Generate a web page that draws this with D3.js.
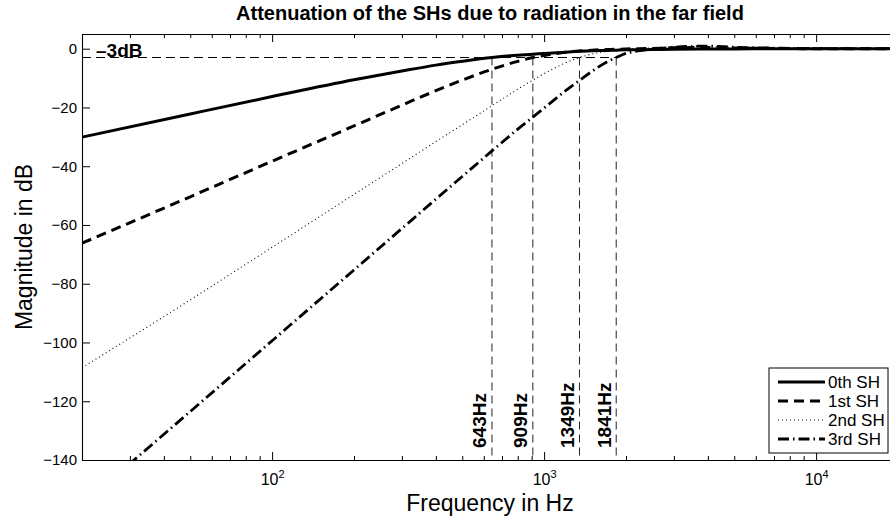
<!DOCTYPE html>
<html>
<head>
<meta charset="utf-8">
<script src="https://cdn.jsdelivr.net/npm/d3@7"></script>
<style>
  html, body { margin: 0; padding: 0; background: #fff; }
  svg { display: block; font-family: "Liberation Sans", Arial, Helvetica, sans-serif; }
</style>
</head>
<body>
<svg id="chart" width="890" height="517"></svg>
<script>
// ---- data ----
const freqs = [20, 50, 100, 200, 300, 400, 500, 643, 800, 909, 1000, 1200, 1349, 1500, 1700, 1841, 2000, 2500, 3000, 4000, 5000, 7000, 10000, 20000];
const sh0 = [-30.1, -22.2, -16.3, -10.6, -7.6, -5.6, -4.3, -3.0, -2.2, -1.9, -1.6, -1.2, -0.9, -0.7, -0.6, -0.5, -0.4, -0.3, -0.2, -0.1, -0.1, 0, 0, 0];
const sh1 = [-66.2, -50.4, -38.3, -26.3, -19.2, -14.3, -10.7, -7.0, -4.3, -3.0, -2.3, -1.2, -0.8, -0.5, -0.3, -0.2, -0.1, 0.1, 0.3, 0.4, 0.2, 0.1, 0, 0];
const sh2 = [-108.6, -85.5, -67.6, -49.6, -39.1, -31.6, -25.9, -19.4, -13.8, -10.7, -8.5, -4.8, -3.0, -1.8, -0.9, -0.5, -0.2, 0.3, 0.6, 0.7, 0.4, 0.1, 0, 0];
const sh3 = [-155.3, -123.5, -99.4, -75.3, -61.2, -51.2, -43.5, -34.8, -27.4, -23.3, -20.2, -14.3, -10.8, -7.7, -4.5, -3.0, -1.6, -0.2, 0.5, 0.9, 0.5, 0.2, 0, 0];
const seriesNames = ["0th SH", "1st SH", "2nd SH", "3rd SH"];
const cutoffs = [643, 909, 1349, 1841];
const cutoffLabels = ["643Hz", "909Hz", "1349Hz", "1841Hz"];
const refLevel = -3;
const refLabel = "\u20133dB";
const yTicks = [-140, -120, -100, -80, -60, -40, -20, 0];
const xMajorTicks = [100, 1000, 10000];
const xMinorTicks = [20, 30, 40, 50, 60, 70, 80, 90, 200, 300, 400, 500, 600, 700, 800, 900, 2000, 3000, 4000, 5000, 6000, 7000, 8000, 9000, 20000];
const titleText = "Attenuation of the SHs due to radiation in the far field";
const xLabel = "Frequency in Hz";
const yLabel = "Magnitude in dB";

// ---- layout ----
const svg = d3.select("#chart");
const L = 82, R = 898, T = 34, B = 460;
const x = d3.scaleLog().domain([20, 20000]).range([L, R]);
const y = d3.scaleLinear().domain([-140, 5]).range([B, T]);

const styles = [
  { w: 3, dash: null },
  { w: 3, dash: "10,6" },
  { w: 1.1, dash: "1,3" },
  { w: 2.8, dash: "11,4,1.5,4" }
];
const seriesValues = [sh0, sh1, sh2, sh3];

svg.append("defs").append("clipPath").attr("id", "plotclip")
  .append("rect").attr("x", L).attr("y", T).attr("width", R - L).attr("height", B - T);

// title
svg.append("text").attr("x", (L + R) / 2).attr("y", 20)
  .attr("text-anchor", "middle").attr("font-weight", "bold").attr("font-size", 20)
  .text(titleText);

// reference -3 dB lines
const refG = svg.append("g").attr("clip-path", "url(#plotclip)");
refG.append("line")
  .attr("x1", x(20)).attr("x2", x(cutoffs[cutoffs.length - 1]))
  .attr("y1", y(refLevel)).attr("y2", y(refLevel))
  .attr("stroke", "#000").attr("stroke-width", 1).attr("stroke-dasharray", "9,5");
cutoffs.forEach(c => {
  refG.append("line")
    .attr("x1", x(c)).attr("x2", x(c))
    .attr("y1", y(refLevel)).attr("y2", y(-140))
    .attr("stroke", "#222").attr("stroke-width", 1).attr("stroke-dasharray", "8,5");
});

// curves
const line = d3.line().x(d => x(d[0])).y(d => y(d[1])).curve(d3.curveMonotoneX);
const curveG = svg.append("g").attr("clip-path", "url(#plotclip)");
seriesValues.forEach((vals, i) => {
  const pts = freqs.map((f, k) => [f, vals[k]]);
  curveG.append("path").datum(pts)
    .attr("d", line).attr("fill", "none").attr("stroke", "#000")
    .attr("stroke-width", styles[i].w)
    .attr("stroke-dasharray", styles[i].dash);
});

// axes
const axB = svg.append("g").attr("transform", `translate(0,${B})`)
  .call(d3.axisBottom(x).tickValues(xMajorTicks).tickSize(-8).tickSizeOuter(0).tickFormat(""));
svg.append("g").attr("transform", `translate(0,${B})`)
  .call(d3.axisBottom(x).tickValues(xMinorTicks).tickSize(-4).tickSizeOuter(0).tickFormat(""))
  .call(g => g.select(".domain").remove());
svg.append("g").attr("transform", `translate(0,${T})`)
  .call(d3.axisTop(x).tickValues(xMajorTicks).tickSize(-8).tickSizeOuter(0).tickFormat(""));
svg.append("g").attr("transform", `translate(0,${T})`)
  .call(d3.axisTop(x).tickValues(xMinorTicks).tickSize(-4).tickSizeOuter(0).tickFormat(""))
  .call(g => g.select(".domain").remove());
const axL = svg.append("g").attr("transform", `translate(${L},0)`)
  .call(d3.axisLeft(y).tickValues(yTicks).tickSize(-8).tickSizeOuter(0).tickPadding(5));
axL.selectAll("text").attr("font-size", 15).attr("font-family", null);
svg.append("g").attr("transform", `translate(${R},0)`)
  .call(d3.axisRight(y).tickValues(yTicks).tickSize(-8).tickSizeOuter(0).tickFormat(""));
svg.selectAll(".domain").attr("stroke-width", 1.1);

// x tick labels 10^n
axB.selectAll(".tick").each(function(d) {
  const t = d3.select(this).append("text")
    .attr("y", 25).attr("fill", "#000").attr("font-size", 16)
    .attr("font-family", null)
    .attr("text-anchor", "middle");
  t.append("tspan").text("10");
  t.append("tspan").attr("dy", -7).attr("font-size", 11).text(String(Math.round(Math.log10(d))));
});

// axis labels
svg.append("text").attr("x", (L + R) / 2).attr("y", 511)
  .attr("text-anchor", "middle").attr("font-size", 23).text(xLabel);
svg.append("text").attr("transform", `translate(32,${(T + B) / 2}) rotate(-90)`)
  .attr("text-anchor", "middle").attr("font-size", 23).text(yLabel);

// -3dB label
svg.append("text").attr("x", 96).attr("y", 57)
  .attr("font-weight", "bold").attr("font-size", 19).text(refLabel);

// cutoff labels
cutoffs.forEach((c, i) => {
  svg.append("text")
    .attr("transform", `translate(${x(c) - 5.5},448) rotate(-90)`)
    .attr("font-weight", "bold").attr("font-size", 19)
    .text(cutoffLabels[i]);
});

// legend
const lg = svg.append("g");
const lx = 769, ly = 368, lw = 119, lh = 85;
lg.append("rect").attr("x", lx).attr("y", ly).attr("width", lw).attr("height", lh)
  .attr("fill", "#fff").attr("stroke", "#000").attr("stroke-width", 1);
seriesNames.forEach((name, i) => {
  const yy = ly + 14 + i * 19;
  lg.append("line").attr("x1", lx + 9).attr("x2", lx + 56).attr("y1", yy).attr("y2", yy)
    .attr("stroke", "#000").attr("stroke-width", styles[i].w)
    .attr("stroke-dasharray", styles[i].dash);
  lg.append("text").attr("x", lx + 59).attr("y", yy + 6)
    .attr("font-size", 17).text(name);
});
</script>
</body>
</html>
